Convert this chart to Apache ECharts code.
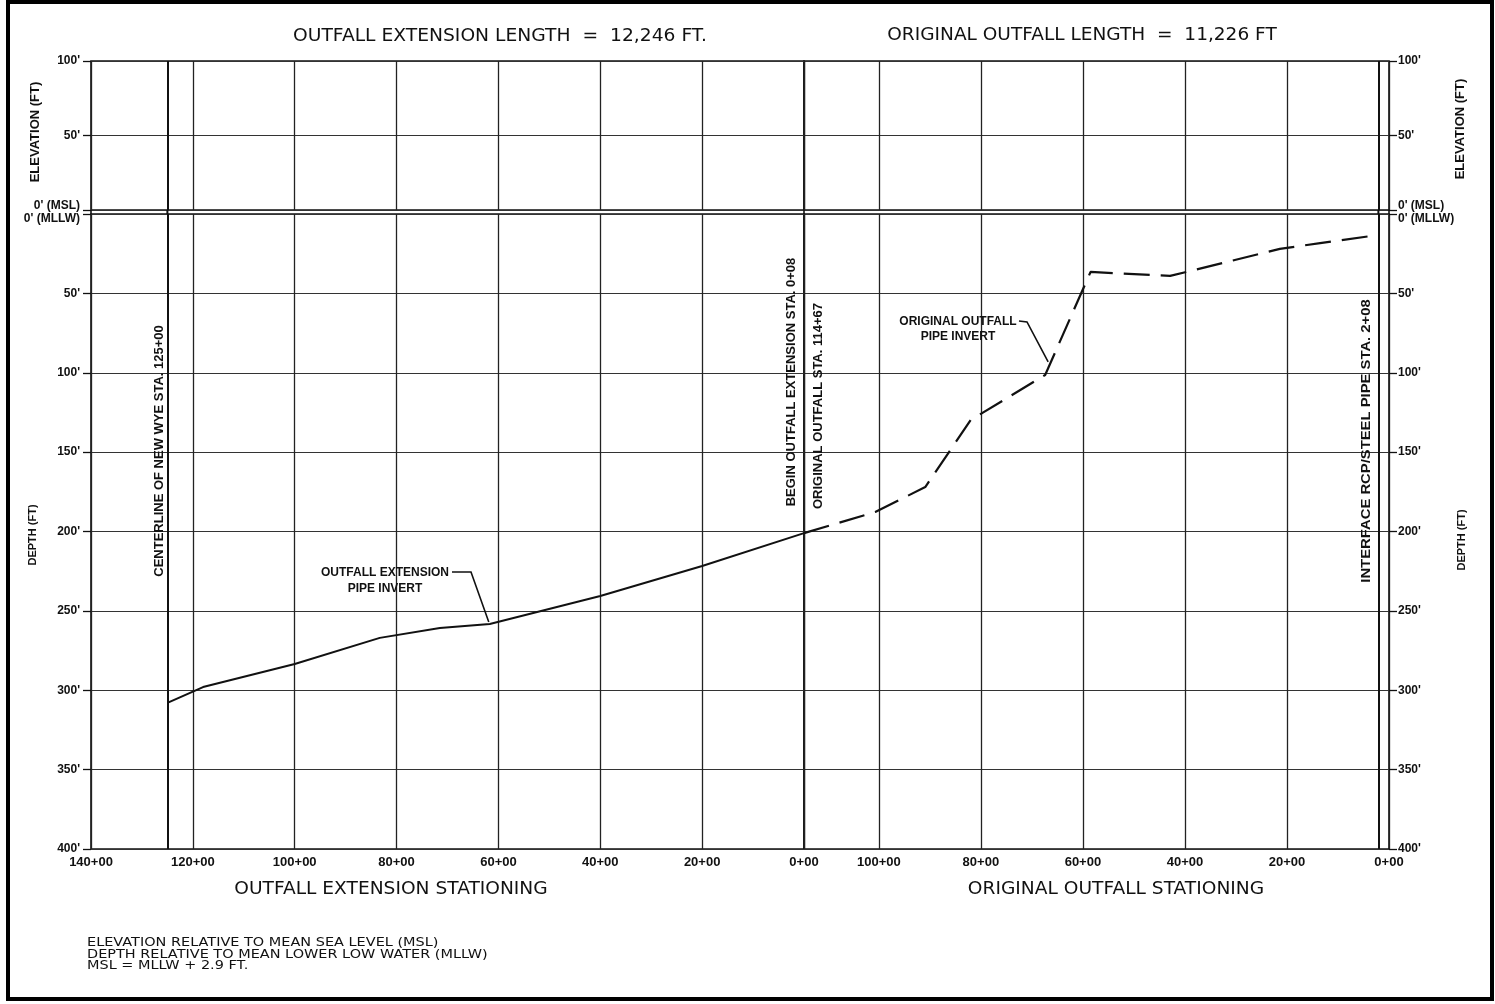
<!DOCTYPE html>
<html><head><meta charset="utf-8">
<script src="https://cdn.jsdelivr.net/npm/echarts@6/dist/echarts.min.js"></script>
<style>html,body{margin:0;padding:0;background:#fff}#c{width:1495px;height:1004px}</style>
</head><body><div id="c"></div>
<script>
// ---- data (stations in hundreds of feet, depths in feet below MLLW) ----
const extStations = [125, 118, 100, 83.3, 71.5, 61.7, 40, 20, 0];
const extDepths   = [308, 298, 283.5, 267, 260.8, 258.3, 240.6, 221.7, 201];
const origStations = [114.67, 100.7, 90.9, 82.0, 67.4, 58.5, 42.9, 21.4, 13.5, 2.08];
const origDepths   = [201, 187.7, 172, 129.8, 101.4, 36.5, 39, 22, 18.3, 13.2];
const elevTickValues = [0, 50, 100];
const elevTickLabels = ["0' (MSL)", "50'", "100'"];
const depthTickValues = [0, 50, 100, 150, 200, 250, 300, 350, 400];
const depthTickLabels = ["0' (MLLW)", "50'", "100'", "150'", "200'", "250'", "300'", "350'", "400'"];
const extStationMax = 140;
const origStationMax = 114.67;
const wyeStation = 125;       // CENTERLINE OF NEW WYE STA. 125+00
const interfaceStation = 2.08; // INTERFACE RCP/STEEL PIPE STA. 2+08
const stationLabel = v => v + '+00';

// ---- layout ----
const L = 91, M = 804, R = 1389, T = 61, MSLY = 210, MLLWY = 214, B = 849;
const FONT = "'Liberation Sans', Arial, sans-serif";
const CAD = "'DejaVu Sans', 'Liberation Sans', sans-serif";
const INK = '#111';

const chart = echarts.init(document.getElementById('c'), null, {renderer: 'canvas'});

const gridStyle = {show: true, borderColor: INK, borderWidth: 1.6, backgroundColor: 'transparent'};
const vSplit = {show: true, lineStyle: {color: '#222', width: 1.3}};
const hSplit = {show: true, lineStyle: {color: '#333', width: 1.1}};

function xAx(grid, max, showLabels) {
  return {
    type: 'value', gridIndex: grid, min: 0, max: max, interval: 20, inverse: true,
    axisLine: {show: false, onZero: false}, axisTick: {show: false},
    splitLine: vSplit,
    axisLabel: {show: showLabels, formatter: stationLabel, color: INK, fontFamily: FONT,
      fontWeight: 'bold', fontSize: 13, margin: 7,
      showMaxLabel: max === extStationMax, showMinLabel: true}
  };
}
function lookup(vals, labs) { return v => { const i = vals.indexOf(v); return i < 0 ? '' : labs[i]; }; }
const elevFmt = lookup(elevTickValues, elevTickLabels);
const depthFmt = lookup(depthTickValues, depthTickLabels);

function yAx(grid, pos, isElev) {
  return {
    type: 'value', gridIndex: grid, position: pos,
    min: 0, max: isElev ? 100 : 400, interval: 50, inverse: !isElev,
    axisLine: {show: false, onZero: false},
    axisTick: {show: true, length: 8, inside: false, lineStyle: {color: INK, width: 1.3}},
    splitLine: hSplit,
    axisLabel: {
      color: INK, fontFamily: FONT, fontWeight: 'bold', fontSize: 12,
      margin: pos === 'left' ? 11 : 9,
      formatter: v => {
        if (v === 0) return isElev ? '{up|' + elevFmt(v) + '}' : '{dn|' + depthFmt(v) + '}';
        return isElev ? elevFmt(v) : depthFmt(v);
      },
      rich: {
        up: {padding: [0, 0, 8, 0], fontFamily: FONT, fontWeight: 'bold', fontSize: 12, color: INK},
        dn: {padding: [10, 0, 0, 0], fontFamily: FONT, fontWeight: 'bold', fontSize: 12, color: INK}
      }
    }
  };
}

function vMark(station) {
  return {
    silent: true, symbol: ['none', 'none'], animation: false,
    label: {show: false},
    lineStyle: {color: INK, width: 2, type: 'solid'},
    data: [{xAxis: station}]
  };
}

chart.setOption({
  animation: false,
  backgroundColor: '#fff',
  grid: [
    Object.assign({left: L, top: T, width: M - L, height: MSLY - T}, gridStyle),
    Object.assign({left: M, top: T, width: R - M, height: MSLY - T}, gridStyle),
    Object.assign({left: L, top: MLLWY, width: M - L, height: B - MLLWY}, gridStyle),
    Object.assign({left: M, top: MLLWY, width: R - M, height: B - MLLWY}, gridStyle)
  ],
  xAxis: [xAx(0, extStationMax, false), xAx(1, origStationMax, false),
          xAx(2, extStationMax, true), xAx(3, origStationMax, true)],
  yAxis: [yAx(0, 'left', true), yAx(1, 'right', true), yAx(2, 'left', false), yAx(3, 'right', false)],
  series: [
    {type: 'line', xAxisIndex: 2, yAxisIndex: 2, symbol: 'none',
     lineStyle: {color: INK, width: 2}, data: extStations.map((s, i) => [s, extDepths[i]]),
     markLine: vMark(wyeStation)},
    {type: 'line', xAxisIndex: 3, yAxisIndex: 3, symbol: 'none',
     lineStyle: {color: INK, width: 2.2, type: [26, 11]}, data: origStations.map((s, i) => [s, origDepths[i]]),
     markLine: vMark(interfaceStation)},
    {type: 'line', xAxisIndex: 0, yAxisIndex: 0, symbol: 'none', data: [], markLine: vMark(wyeStation)},
    {type: 'line', xAxisIndex: 1, yAxisIndex: 1, symbol: 'none', data: [], markLine: vMark(interfaceStation)}
  ]
});

// ---- annotations (positioned through the chart's own scales) ----
const px = (g, x, y) => chart.convertToPixel({gridIndex: g}, [x, y]);
const wyeX = px(2, wyeStation, 0)[0];
const begX = px(2, 0, 0)[0];
const intX = px(3, interfaceStation, 0)[0];
const extTip = px(2, 61.7, 258.3);
const origTip = px(3, 67.4, 101.4);

function txt(x, y, s, size, weight, align, rot, fam, sx) {
  return {type: 'text', x: x, y: y, rotation: rot || 0, scaleX: sx || 1, silent: true,
    style: {text: s, fill: INK, font: (weight || 'normal') + ' ' + size + 'px ' + (fam || FONT),
      textAlign: align || 'center', textVerticalAlign: 'middle'}};
}
const V = Math.PI / 2;
const g = [
  {type: 'rect', shape: {x: 8, y: 2, width: 1484, height: 997}, style: {fill: 'none', stroke: '#000', lineWidth: 4}, silent: true},
  {type: 'line', shape: {x1: L, y1: MSLY, x2: L, y2: MLLWY}, style: {stroke: INK, lineWidth: 1.6}},
  {type: 'line', shape: {x1: M, y1: MSLY, x2: M, y2: MLLWY}, style: {stroke: INK, lineWidth: 1.6}},
  {type: 'line', shape: {x1: R, y1: MSLY, x2: R, y2: MLLWY}, style: {stroke: INK, lineWidth: 1.6}},
  {type: 'line', shape: {x1: wyeX, y1: MSLY, x2: wyeX, y2: MLLWY}, style: {stroke: INK, lineWidth: 2}},
  {type: 'line', shape: {x1: intX, y1: MSLY, x2: intX, y2: MLLWY}, style: {stroke: INK, lineWidth: 2}},
  txt(500, 37, 'OUTFALL EXTENSION LENGTH  =  12,246 FT.', 17, 'normal', 'center', 0, CAD, 1.1),
  txt(1082, 36, 'ORIGINAL OUTFALL LENGTH  =  11,226 FT', 17, 'normal', 'center', 0, CAD, 1.09),
  txt(391, 890, 'OUTFALL EXTENSION STATIONING', 17, 'normal', 'center', 0, CAD, 1.095),
  txt(1116, 890, 'ORIGINAL OUTFALL STATIONING', 17, 'normal', 'center', 0, CAD, 1.095),
  txt(35, 132, 'ELEVATION (FT)', 13, 'bold', 'center', V),
  txt(33, 535, 'DEPTH (FT)', 11, 'bold', 'center', V),
  txt(1460, 129, 'ELEVATION (FT)', 13, 'bold', 'center', V),
  txt(1462, 540, 'DEPTH (FT)', 11, 'bold', 'center', V),
  txt(wyeX - 8, 451, 'CENTERLINE OF NEW WYE STA. 125+00', 13, 'bold', 'center', V),
  txt(begX - 13, 382, 'BEGIN OUTFALL EXTENSION STA. 0+08', 13, 'bold', 'center', V),
  txt(begX + 14, 406, 'ORIGINAL OUTFALL STA. 114+67', 13, 'bold', 'center', V),
  txt(intX - 12, 441, 'INTERFACE RCP/STEEL PIPE STA. 2+08', 13, 'bold', 'center', V, FONT, 1.14),
  txt(385, 573, 'OUTFALL EXTENSION', 12, 'bold'),
  txt(385, 589, 'PIPE INVERT', 12, 'bold'),
  {type: 'polyline', silent: true, shape: {points: [[452, 572], [471, 572], [extTip[0] - 1, extTip[1] - 2]]},
   style: {stroke: INK, lineWidth: 1.6, fill: 'none'}},
  txt(958, 322, 'ORIGINAL OUTFALL', 12, 'bold'),
  txt(958, 337, 'PIPE INVERT', 12, 'bold'),
  {type: 'polyline', silent: true, shape: {points: [[1019, 321], [1027, 322], [origTip[0] + 3, origTip[1] - 13]]},
   style: {stroke: INK, lineWidth: 1.6, fill: 'none'}},
  txt(87, 943, 'ELEVATION RELATIVE TO MEAN SEA LEVEL (MSL)', 12.8, 'normal', 'left', 0, CAD, 1.13),
  txt(87, 954.5, 'DEPTH RELATIVE TO MEAN LOWER LOW WATER (MLLW)', 12.8, 'normal', 'left', 0, CAD, 1.13),
  txt(87, 966, 'MSL = MLLW + 2.9 FT.', 12.8, 'normal', 'left', 0, CAD, 1.13)
];
chart.setOption({graphic: g});
</script>
</body></html>
